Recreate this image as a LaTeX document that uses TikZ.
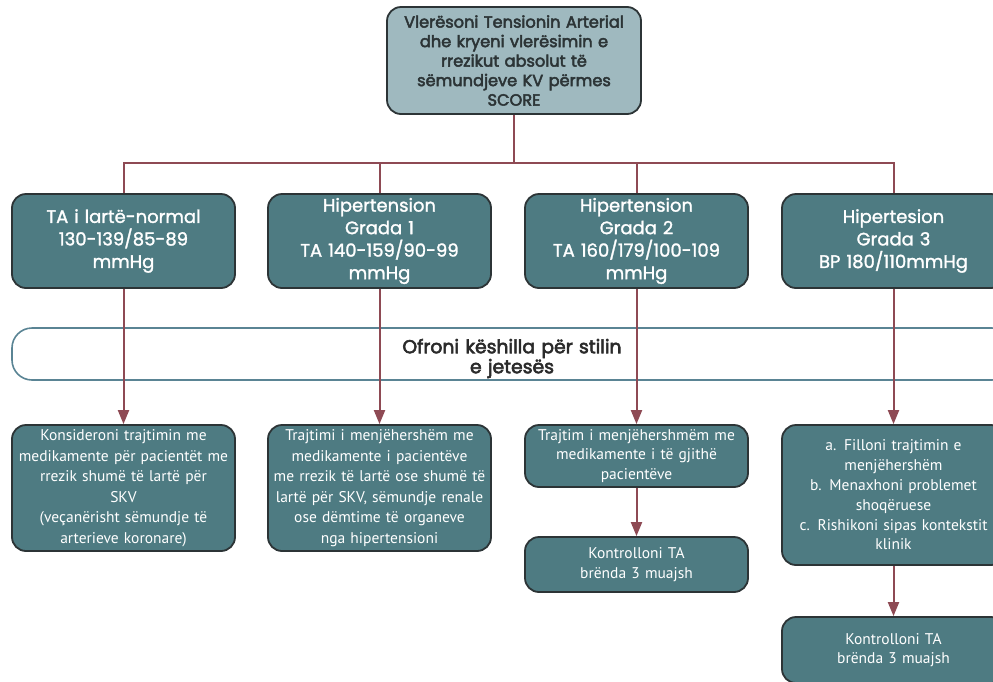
\documentclass[tikz,border=0pt]{standalone}
\usepackage{fontspec}
\setmainfont{PT Sans}
\newfontfamily\headfont{Poppins}[FakeBold=3]
\newfontfamily\levelfont{Poppins}[FakeBold=1.5]
\usetikzlibrary{arrows.meta,calc}
\definecolor{headfill}{HTML}{9FB9BF}
\definecolor{boxfill}{HTML}{4E7B82}
\definecolor{boxedge}{HTML}{2C3436}
\definecolor{linkred}{HTML}{8E4A54}
\definecolor{bandedge}{HTML}{5A8494}
\definecolor{bandtext}{HTML}{2A2A2A}
\tikzset{
  headbox/.style={draw=boxedge, line width=1.8pt, fill=headfill, rounded corners=14pt,
    minimum width=254pt, minimum height=107pt, inner sep=0pt, text width=250pt,
    align=center, font=\headfont\fontsize{16.2}{19.5}\selectfont, text=boxedge},
  levelbox/.style={draw=boxedge, line width=1.8pt, fill=boxfill, rounded corners=14pt,
    minimum width=223pt, minimum height=94pt, inner sep=0pt, text width=220pt,
    align=center, font=\levelfont\fontsize{18}{22.5}\selectfont, text=white},
  actbox/.style={draw=boxedge, line width=1.8pt, fill=boxfill, rounded corners=14pt,
    minimum width=223pt, inner sep=0pt, text width=221pt,
    align=center, font=\fontsize{15.5}{20.5}\selectfont, text=white},
  band/.style={draw=bandedge, line width=1.6pt, fill=white, rounded corners=20pt,
    minimum width=1000pt, minimum height=52pt, inner sep=0pt},
  bandlabel/.style={inner sep=0pt, text width=300pt,
    align=center, font=\headfont\fontsize{18.8}{20}\selectfont, text=bandtext},
  link/.style={draw=linkred, line width=2pt},
  arrowlink/.style={link, -{Triangle[width=11pt,length=14pt]}}
}
\begin{document}
\begin{tikzpicture}[x=1pt,y=-1pt]
\useasboundingbox (0,0) rectangle (993,681);
\clip (0,0) rectangle (993,681);

% assessment box and the four blood-pressure categories
\node[headbox] (top) at (514,60.5) {Vlerësoni Tensionin Arterial\\dhe kryeni vlerësimin e\\rrezikut absolut të\\sëmundjeve KV përmes\\SCORE};
\node[levelbox] (l1) at (123.5,241) {TA i lartë-normal\\130-139/85-89\\mmHg};
\node[levelbox] (l2) at (379.5,241) {Hipertension\\Grada 1\\TA 140-159/90-99\\mmHg};
\node[levelbox] (l3) at (636.5,241) {Hipertension\\Grada 2\\TA 160/179/100-109\\mmHg};
\node[levelbox] (l4) at (893.5,241) {Hipertesion\\Grada 3\\BP 180/110mmHg};

\coordinate (bus) at (514,163);
\draw[link] (top.south) -- (bus);
\foreach \n in {l1,l2,l3,l4} \draw[link] (bus) -| (\n.north);

% lifestyle advice band across all categories
\node[band] (life) at (512,354) {};
\node[bandlabel] (lifetext) at ([yshift=-4.5pt]life.center) {Ofroni këshilla për stilin\\e jetesës};

% treatment boxes
\node[actbox, minimum height=126pt] (a1) at (123.5,488) {Konsideroni trajtimin me\\medikamente për pacientët me\\rrezik shumë të lartë për\\SKV\\(veçanërisht sëmundje të\\arterieve koronare)};
\node[actbox, minimum height=126pt] (a2) at (379.5,488) {Trajtimi i menjëhershëm me\\medikamente i pacientëve\\me rrezik të lartë ose shumë të\\lartë për SKV, sëmundje renale\\ose dëmtime të organeve\\nga hipertensioni};
\node[actbox, minimum height=62pt, font=\fontsize{15.5}{19.5}\selectfont] (a3) at (636.5,456) {Trajtim i menjëhershmëm me\\medikamente i të gjithë\\pacientëve};
\node[actbox, minimum height=55pt, font=\fontsize{15.5}{19.5}\selectfont] (c3) at (636.5,564.5) {Kontrolloni TA\\brënda 3 muajsh};
\node[actbox, minimum height=140pt, font=\fontsize{15.5}{19.8}\selectfont] (a4) at (893.5,495) {a. Filloni trajtimin e\\menjëhershëm\\b. Menaxhoni problemet\\shoqëruese\\c. Rishikoni sipas kontekstit\\klinik};
\node[actbox, minimum height=66pt, font=\fontsize{15.5}{19.5}\selectfont] (c4) at (893.5,650) {Kontrolloni TA\\brënda 3 muajsh};

% arrows
\draw[arrowlink] (l1.south) -- (a1.north);
\draw[arrowlink] (l2.south) -- (a2.north);
\draw[arrowlink] (l3.south) -- (a3.north);
\draw[arrowlink] (l4.south) -- (a4.north);
\draw[arrowlink] (a3.south) -- (c3.north);
\draw[arrowlink] (a4.south) -- (c4.north);
\end{tikzpicture}
\end{document}
